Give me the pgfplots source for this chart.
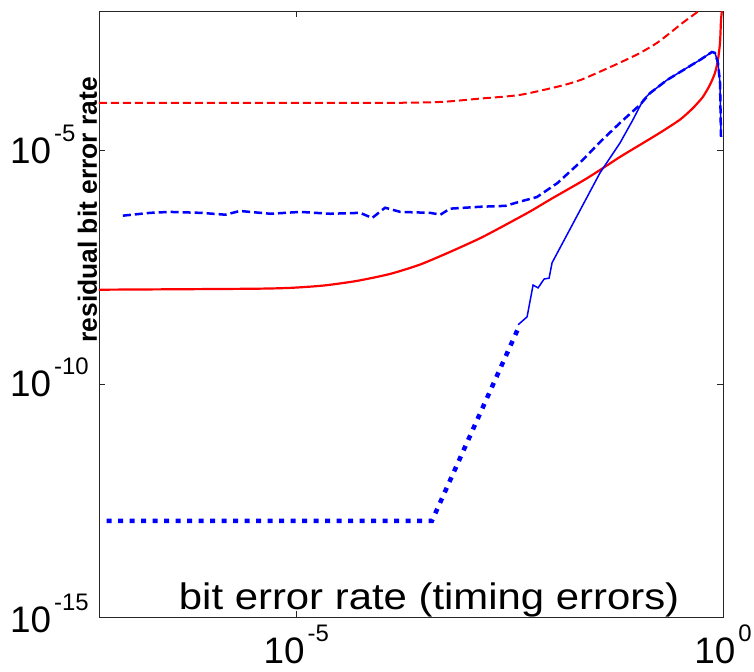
\documentclass[border=0pt]{standalone}
\usepackage{pgfplots}
\pgfplotsset{compat=1.18}
\usepackage{fontspec}
\setmainfont{Liberation Sans}
\newcommand\tl[1]{{\fontsize{37}{37}\selectfont 10\kern3bp\raisebox{22bp}{\fontsize{24}{24}\selectfont #1}}}
\definecolor{mred}{RGB}{255,0,0}
\definecolor{mblue}{RGB}{0,0,255}
\begin{document}
\begin{tikzpicture}
\useasboundingbox (-99bp,-55bp) rectangle (655bp,617bp);
\begin{axis}[
  at={(0,0)}, anchor=south west,
  scale only axis, width=624bp, height=606bp,
  xmode=log, ymode=log,
  xmin=4.9e-8, xmax=1, ymin=1e-15, ymax=1e-2,
  xtick={1e-5,1}, xticklabels={\tl{-5},\tl{0}},
  ytick={1e-15,1e-10,1e-5}, yticklabels={\raisebox{-2bp}{\tl{-15}},\tl{-10},\tl{-5}},
  minor xtick={}, minor ytick={},
  tick align=inside,
  major tick length=6bp,
  xticklabel style={anchor=north, inner sep=0pt, yshift=-8bp},
  yticklabel style={anchor=base west, inner sep=0pt, xshift=-89bp, yshift=-13bp},
  axis line style={line width=0.8bp, black!85},
  tick style={line width=0.8bp, black!85},
  xlabel={\scalebox{1.136}[1]{bit error rate (timing errors)}},
  ylabel={\bfseries residual bit error rate},
  xlabel style={at={(axis description cs:0.529,0.0116)}, anchor=base, inner sep=0pt, font=\fontsize{37}{37}\selectfont},
  ylabel style={at={(axis description cs:-0.0032,0.672)}, anchor=base, inner sep=0pt, font=\fontsize{26.5}{26.5}\selectfont},
]
% red dashed
\addplot[mred, line width=2bp, dash pattern=on 8bp off 4bp, smooth, tension=0.4] coordinates {
(4.9e-8,1.07e-4) (9.55e-5,1.07e-4) (4.90e-4,1.12e-4) (1.41e-3,1.32e-4)
(4.17e-3,1.585e-4) (1.23e-2,2.45e-4) (2.14e-2,3.31e-4) (3.63e-2,5.01e-4)
(6.17e-2,7.76e-4) (0.107,1.26e-3) (0.170,2.09e-3) (0.240,3.39e-3)
(0.339,5.62e-3) (0.501,9.55e-3) (0.631,1.41e-2)
};
% red solid
\addplot[mred, line width=2.2bp, smooth, tension=0.4] coordinates {
(4.9e-8,1.05e-8) (2.88e-6,1.10e-8) (8.51e-6,1.15e-8) (2.09e-5,1.29e-8)
(5.13e-5,1.62e-8) (1.26e-4,2.29e-8) (2.82e-4,3.63e-8) (6.31e-4,6.76e-8)
(1.41e-3,1.32e-7) (2.45e-3,2.24e-7) (5.50e-3,5.01e-7) (9.33e-3,8.91e-7)
(2.29e-2,2.29e-6) (3.63e-2,3.89e-6) (6.22e-2,7.41e-6) (0.107,1.35e-5)
(0.183,2.45e-5) (0.314,4.68e-5) (0.446,8.32e-5) (0.583,1.45e-4)
(0.705,2.63e-4) (0.805,4.68e-4) (0.873,8.91e-4) (0.923,2.09e-3)
(0.948,6.46e-3) (0.973,1.07e-2) (0.985,2e-2)
};
% blue dashed
\addplot[mblue, line width=2.5bp, dash pattern=on 8bp off 4bp] coordinates {
(9.33e-8,4.07e-7) (1.95e-7,4.68e-7) (3.31e-7,4.90e-7) (7.59e-7,4.68e-7)
(1.48e-6,4.27e-7) (2.19e-6,5.13e-7) (5.01e-6,4.47e-7) (1.12e-5,4.90e-7)
(2.51e-5,4.47e-7) (5.62e-5,4.68e-7) (7.76e-5,3.63e-7) (1.10e-4,6.03e-7)
(1.66e-4,4.90e-7) (3.72e-4,4.68e-7) (4.90e-4,4.27e-7) (6.31e-4,5.75e-7)
(1.41e-3,6.31e-7) (2.82e-3,6.61e-7) (4.17e-3,8.13e-7) (6.61e-3,1.02e-6)
(1.15e-2,2.04e-6) (2.29e-2,6.46e-6) (3.63e-2,1.55e-5) (6.22e-2,3.98e-5)
(0.107,9.77e-5) (0.140,1.74e-4) (0.221,3.31e-4) (0.378,6.03e-4)
(0.537,8.91e-4) (0.743,1.32e-3) (0.805,1.26e-3) (0.873,7.76e-4)
(0.923,2.88e-4) (0.948,2.0e-5)
};
% blue solid
\addplot[mblue, line width=1.5bp] coordinates {
(3.98e-3,1.86e-9) (5.07e-3,2.75e-9) (5.96e-3,1.32e-8) (6.82e-3,1.15e-8)
(8.02e-3,1.78e-8) (9.18e-3,1.86e-8) (9.95e-3,3.98e-8) (3.63e-2,3.39e-6)
(6.22e-2,1.48e-5) (8.83e-2,4.68e-5) (0.116,1.23e-4) (0.140,1.74e-4)
(0.221,3.31e-4) (0.378,6.03e-4) (0.537,8.91e-4) (0.743,1.32e-3)
(0.805,1.26e-3) (0.873,7.76e-4) (0.923,2.88e-4) (0.948,2.0e-5)
};
% blue dotted
\addplot[mblue, line width=4.5bp, dash pattern=on 5bp off 6.5bp] coordinates {
(6.03e-8,1.15e-13) (3.89e-4,1.15e-13) (4.17e-3,1.86e-9)
};
\end{axis}
\end{tikzpicture}
\end{document}
